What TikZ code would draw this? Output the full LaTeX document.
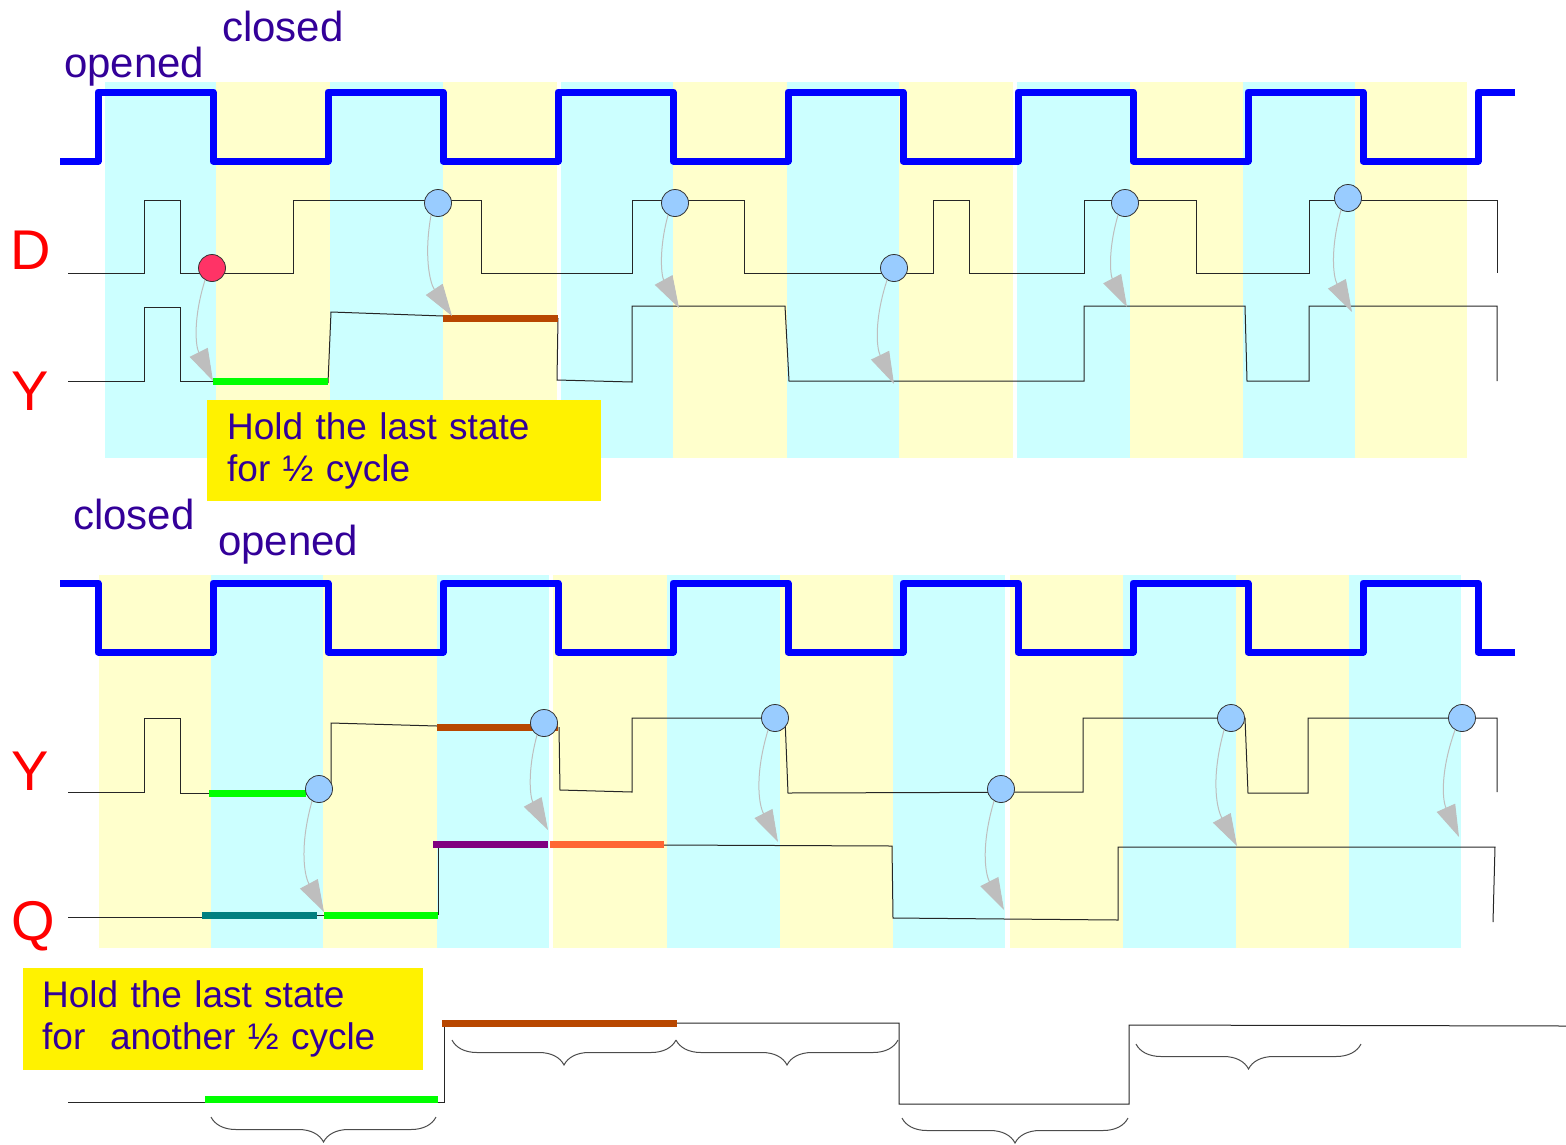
\documentclass[tikz,border=0pt]{standalone}
\usepackage{fontspec}
\setmainfont{Liberation Sans}
\usetikzlibrary{arrows.meta,decorations.pathreplacing}

\definecolor{openblue}{HTML}{CCFFFF}
\definecolor{closedyellow}{HTML}{FFFFCC}
\definecolor{textblue}{HTML}{330099}
\definecolor{sampblue}{HTML}{99CCFF}
\definecolor{samperr}{HTML}{FF3366}
\definecolor{holdbrown}{HTML}{B84700}
\definecolor{holdteal}{HTML}{008080}
\definecolor{holdpurple}{HTML}{800080}
\definecolor{holdorange}{HTML}{FF6633}
\definecolor{flowgray}{HTML}{BEBEBE}

\tikzset{
  clk/.style={blue, line width=7pt, line join=round},
  sig/.style={black!85, line width=1pt},
  hold/.style={line width=7pt},
  samp/.style={circle, draw=black!80, line width=0.8pt, fill=sampblue, minimum size=27pt, inner sep=0pt},
  flow/.style={flowgray, line width=1pt, -{Triangle[length=32pt,width=20pt]}, bend right=22},
  state/.style={text=textblue, font=\fontsize{42}{48}\selectfont, anchor=base west, inner sep=0pt},
  signame/.style={text=red, font=\fontsize{56}{60}\selectfont, anchor=base west, inner sep=0pt},
  note/.style={fill=yellow, text=textblue, font=\fontsize{37}{42}\selectfont, align=left, anchor=north west, inner xsep=20pt, inner ysep=0pt},
  span/.style={black!70, line width=1pt, decorate, decoration={brace, mirror, amplitude=25pt}}
}

\begin{document}
\begin{tikzpicture}[x=1pt,y=-1pt]
    \useasboundingbox (0,0) rectangle (1566,1144);

    % latch 1: stripes
    \foreach \a/\b in {105/216,330/443,561/673,787/899,1017/1130,1243/1355}
        \fill[openblue] (\a,82) rectangle (\b,458);
    \foreach \a/\b in {216/330,443/557,673/787,899/1013,1130/1243,1355/1467}
        \fill[closedyellow] (\a,82) rectangle (\b,458);

    % latch 2: stripes
    \foreach \a/\b in {211/323,437/549,667/780,893/1005,1123/1236,1349/1461}
        \fill[openblue] (\a,575) rectangle (\b,948);
    \foreach \a/\b in {99/211,323/437,553/667,780/893,1010/1123,1236/1349}
        \fill[closedyellow] (\a,575) rectangle (\b,948);

    % clocks
    \draw[clk] (60,161) foreach \k in {0,...,5} { -| ({98+230*\k},92) -| ({213+230*\k},161) } -| (1478,92) -- (1515,92);
    \draw[clk] (60,583) foreach \k in {0,...,5} { -| ({98+230*\k},652) -| ({213+230*\k},583) } -| (1478,652) -- (1515,652);

    % D
    \draw[sig] (68,273) -- (144,273) |- (180,200) |- (293,273) |- (481,200) |- (632,273) |- (744,200)
        |- (933,273) |- (969,200) |- (1084,273) |- (1196,200) |- (1309,273) |- (1497,200) -- (1497,273);

    % Y (latch 1)
    \draw[sig] (68,381) -- (144,381) |- (180,307) |- (213,381);
    \draw[sig] (328,383) -- (331,312) -- (443,316);
    \draw[sig] (558,318) -- (557,380) -- (632,382) -- (632,306) -- (785,306) -- (789,381) -- (1084,381)
        |- (1245,306) -- (1247,381) -- (1309,381) |- (1497,306) -- (1497,381);
    \draw[hold, green] (213,381) -- (328,381);
    \draw[hold, holdbrown] (443,318) -- (558,318);

    % Y (latch 2)
    \draw[sig] (68,792) -- (144,792) |- (180,718) |- (209,793);
    \draw[sig] (331,789) -- (331,723) -- (437,726);
    \draw[sig] (559,727) -- (560,790) -- (632,792) -- (632,718) -- (785,718) -- (788,793) -- (1083,792)
        |- (1245,718) -- (1248,793) -- (1308,793) |- (1497,718) -- (1497,792);
    \draw[hold, green] (209,793) -- (306,793);
    \draw[hold, holdbrown] (437,727) -- (558,727);

    % Q
    \draw[sig] (68,917) -- (202,917);
    \draw[sig] (317,915) -- (324,915);
    \draw[sig] (438,915) -- (438,844);
    \draw[sig] (664,845) -- (892,846) -- (893,918) -- (1118,920) -- (1118,847) -- (1495,847) -- (1493,922);
    \draw[hold, holdteal] (202,915) -- (317,915);
    \draw[hold, green] (324,915) -- (438,915);
    \draw[hold, holdpurple] (433,844) -- (548,844);
    \draw[hold, holdorange] (550,844) -- (664,844);

    % Q alone
    \draw[sig] (68,1102) -- (205,1102);
    \draw[sig] (438,1102) -- (444,1102) -- (444,1023);
    \draw[sig] (677,1023) -- (899,1023) -- (899,1104) -- (1129,1104) -- (1129,1025) -- (1566,1026);
    \draw[hold, green] (205,1099) -- (438,1099);
    \draw[hold, holdbrown] (442,1023) -- (677,1023);

    \draw[span] (211,1117) -- (436,1117);
    \draw[span] (452,1040) -- (676,1040);
    \draw[span] (676,1040) -- (898,1040);
    \draw[span] (902,1118) -- (1128,1118);
    \draw[span] (1136,1044) -- (1361,1044);

    % sampling points
    \node[samp, fill=samperr] (s1) at (212,268) {};
    \node[samp] (s2) at (438,203) {};
    \node[samp] (s3) at (675,203) {};
    \node[samp] (s4) at (894,268) {};
    \node[samp] (s5) at (1125,203) {};
    \node[samp] (s6) at (1348,198) {};

    \node[samp] (t1) at (319,789) {};
    \node[samp] (t2) at (544,723) {};
    \node[samp] (t3) at (775,718) {};
    \node[samp] (t4) at (1001,789) {};
    \node[samp] (t5) at (1231,718) {};
    \node[samp] (t6) at (1462,718) {};

    \coordinate (e1) at (213,381);
    \coordinate (e2) at (452,316);
    \coordinate (e3) at (679,308);
    \coordinate (e4) at (894,384);
    \coordinate (e5) at (1127,307);
    \coordinate (e6) at (1352,312);

    \coordinate (f1) at (324,912);
    \coordinate (f2) at (548,830);
    \coordinate (f3) at (778,842);
    \coordinate (f4) at (1004,910);
    \coordinate (f5) at (1237,846);
    \coordinate (f6) at (1459,837);

    \foreach \n in {1,...,6} {
        \draw[flow] (s\n.240) to (e\n);
        \draw[flow] (t\n.240) to (f\n);
    }

    % texts
    \node[state] (closedA) at (222,41) {closed};
    \node[state] (openedA) at (64,77) {opened};
    \node[state] (closedB) at (73,529) {closed};
    \node[state] (openedB) at (218,555) {opened};

    \node[signame] (nameD) at (10,269) {D};
    \node[signame] (nameY) at (11,410) {Y};
    \node[signame] (nameY2) at (11,790) {Y};
    \node[signame] (nameQ) at (11,940) {Q};

    \node[note, text width=354pt, minimum height=101pt] (holdA) at (207,400) {Hold the last state\\for ½ cycle};
    \node[note, text width=362pt, inner xsep=19pt, minimum height=102pt] (holdB) at (23,968) {Hold the last state\\for~ another ½ cycle};
\end{tikzpicture}
\end{document}
